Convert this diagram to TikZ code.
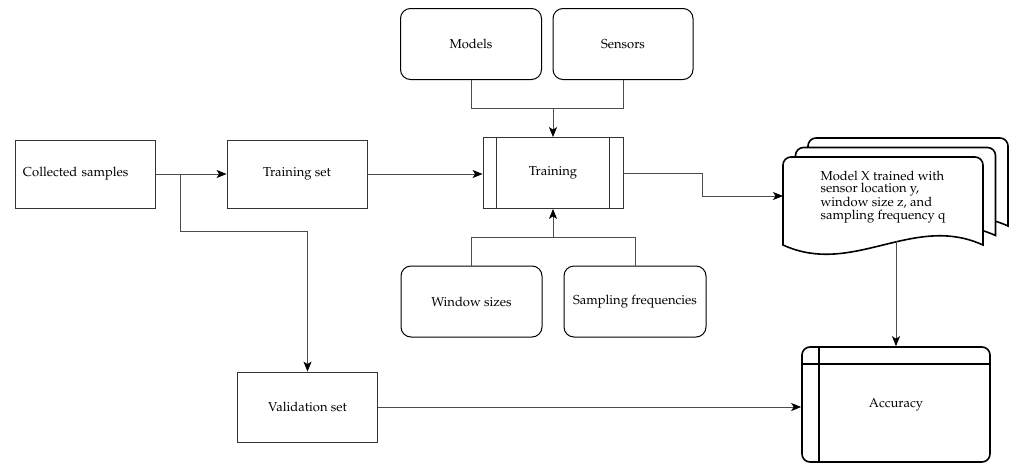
\documentclass[tikz,border=0pt]{standalone}
\usepackage[T1]{fontenc}
\usepackage{mathpazo}
\usetikzlibrary{arrows.meta}

\tikzset{
  box/.style={draw=black!80, line width=0.8pt, minimum width=140pt, minimum height=68pt, inner sep=0pt},
  roundbox/.style={box, draw=black, line width=1pt, rounded corners=10pt, minimum width=141pt, minimum height=71pt},
  link/.style={draw=black!70, line width=0.9pt, -{Stealth[length=10pt,width=8pt,inset=2.5pt,black]}},
  plain/.style={draw=black!70, line width=0.9pt},
  pageline/.style={draw=black, line width=1.6pt, fill=white}
}

\begin{document}
\begin{tikzpicture}[x=1pt,y=-1pt,font=\fontsize{13}{12.7}\selectfont]
\useasboundingbox (0,0) rectangle (1013,464);

% sets
\node[box, text width=125pt, align=left] (collected) at (85.5,174) {Collected samples};
\node[box] (trainset) at (297,174) {Training set};
\node[box, minimum height=70pt] (validation) at (307.5,407) {Validation set};

% inputs of the training
\node[roundbox] (models) at (471,44) {Models};
\node[roundbox, minimum width=140pt] (sensors) at (623,44) {Sensors};
\node[roundbox] (windows) at (471.5,301.5) {Window sizes};
\node[roundbox, minimum width=142pt] (sampling) at (635,301.5) {Sampling frequencies};

% training step
\node[box, minimum height=71pt] (training) at (553,173) {Training};
\draw[black!80, line width=0.8pt] ([xshift=14pt]training.north west) -- ([xshift=14pt]training.south west);
\draw[black!80, line width=0.8pt] ([xshift=-14pt]training.north east) -- ([xshift=-14pt]training.south east);

% trained models, three pages
\foreach \dx/\dy in {25/-19, 12.5/-9.5, 0/0}
  \draw[pageline] (783+\dx,245+\dy) [rounded corners=8pt] -- (783+\dx,157+\dy) -- (983+\dx,157+\dy)
    [sharp corners] -- (983+\dx,245+\dy)
    .. controls (913+\dx,213+\dy) and (853+\dx,277+\dy) .. (783+\dx,245+\dy) -- cycle;
\node[align=left] (model) at (883,197) {Model X trained with\\sensor location y,\\window size z, and\\sampling frequency q};
\coordinate (docin) at (783,196);
\coordinate (docout) at (896,241);

% result
\node[box, draw=black, line width=1.6pt, rounded corners=8pt, minimum width=188pt, minimum height=115pt] (accuracy) at (896,404.5) {Accuracy};
\draw[line width=1.6pt] ([xshift=18pt]accuracy.north west) -- ([xshift=18pt]accuracy.south west);
\draw[line width=1.6pt] ([yshift=-18pt]accuracy.north west) -- ([yshift=-18pt]accuracy.north east);

% connectors
\coordinate (split) at (180,174);
\coordinate (valbend) at (180,231);
\coordinate (topjoin) at (553,108);
\coordinate (botjoin) at (553,237);
\draw[link] (collected) -- (trainset);
\draw[link] (split) -- (valbend) -| (validation.north);
\draw[link] (trainset.east) -- (trainset.east -| training.west);
\draw[plain] (models.south) |- (topjoin);
\draw[plain] (sensors.south) |- (topjoin);
\draw[link] (topjoin) -- (training.north);
\draw[plain] (windows.north) |- (botjoin);
\draw[plain] (sampling.north) |- (botjoin);
\draw[link] (botjoin) -- (training.south);
\draw[link] (training.east) -- ++(79,0) |- (docin);
\draw[link] (docout) -- (accuracy.north);
\draw[link] (validation.east) -- (validation.east -| accuracy.west);
\end{tikzpicture}
\end{document}
